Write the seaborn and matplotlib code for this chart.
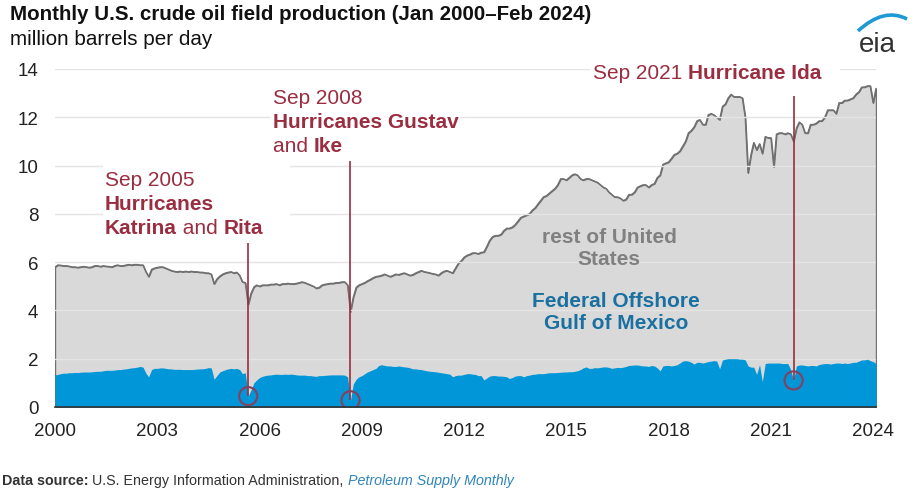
import numpy as np
import pandas as pd
import seaborn as sns
import matplotlib.pyplot as plt
from matplotlib.path import Path
from matplotlib.patches import PathPatch, Rectangle

# ---- data (million barrels per day), monthly Jan 2000 - Feb 2024 ----
start_month = "2000-01"

total_mbd = [
    5.80, 5.88, 5.87, 5.85, 5.85, 5.83, 5.80, 5.80, 5.78, 5.80, 5.82, 5.80,  # 2000
    5.78, 5.80, 5.85, 5.85, 5.82, 5.85, 5.83, 5.82, 5.80, 5.85, 5.88, 5.85,  # 2001
    5.85, 5.88, 5.90, 5.88, 5.90, 5.90, 5.88, 5.88, 5.60, 5.40, 5.70, 5.75,  # 2002
    5.78, 5.80, 5.80, 5.75, 5.70, 5.65, 5.62, 5.60, 5.62, 5.60, 5.62, 5.60,  # 2003
    5.62, 5.60, 5.60, 5.58, 5.58, 5.55, 5.55, 5.50, 5.10, 5.30, 5.42, 5.50,  # 2004
    5.55, 5.58, 5.60, 5.55, 5.58, 5.45, 5.18, 5.15, 4.25, 4.70, 4.97, 5.05,  # 2005
    5.00, 5.05, 5.05, 5.05, 5.08, 5.08, 5.10, 5.05, 5.10, 5.10, 5.12, 5.10,  # 2006
    5.10, 5.12, 5.15, 5.18, 5.15, 5.10, 5.05, 5.00, 4.92, 4.95, 5.05, 5.08,  # 2007
    5.10, 5.12, 5.12, 5.15, 5.15, 5.18, 5.18, 5.05, 3.95, 4.55, 4.95, 5.05,  # 2008
    5.10, 5.15, 5.22, 5.28, 5.35, 5.40, 5.42, 5.45, 5.50, 5.45, 5.40, 5.45,  # 2009
    5.50, 5.48, 5.52, 5.55, 5.50, 5.45, 5.48, 5.55, 5.60, 5.65, 5.60, 5.58,  # 2010
    5.55, 5.52, 5.50, 5.45, 5.55, 5.62, 5.65, 5.60, 5.55, 5.75, 5.95, 6.05,  # 2011
    6.20, 6.28, 6.32, 6.38, 6.38, 6.35, 6.40, 6.42, 6.65, 6.90, 7.05, 7.10,  # 2012
    7.10, 7.15, 7.30, 7.40, 7.40, 7.45, 7.55, 7.70, 7.85, 7.90, 7.95, 8.00,  # 2013
    8.15, 8.25, 8.40, 8.55, 8.70, 8.75, 8.85, 8.95, 9.05, 9.20, 9.45, 9.45,  # 2014
    9.40, 9.50, 9.60, 9.65, 9.60, 9.45, 9.40, 9.45, 9.45, 9.40, 9.35, 9.30,  # 2015
    9.20, 9.10, 9.05, 8.90, 8.80, 8.70, 8.70, 8.65, 8.55, 8.60, 8.80, 8.80,  # 2016
    8.90, 9.10, 9.15, 9.20, 9.20, 9.10, 9.20, 9.25, 9.50, 9.60, 10.05, 10.10,  # 2017
    10.15, 10.30, 10.45, 10.50, 10.60, 10.80, 11.00, 11.35, 11.45, 11.60, 11.85, 11.90,  # 2018
    11.70, 11.70, 12.10, 12.15, 12.10, 12.00, 11.90, 12.45, 12.55, 12.80, 12.95, 12.85,  # 2019
    12.85, 12.85, 12.80, 12.00, 9.70, 10.45, 10.95, 10.65, 10.90, 10.50, 11.20, 11.15,  # 2020
    11.15, 9.95, 11.30, 11.35, 11.35, 11.30, 11.35, 11.30, 11.00, 11.55, 11.80, 11.70,  # 2021
    11.35, 11.35, 11.70, 11.70, 11.75, 11.85, 11.85, 12.00, 12.30, 12.30, 12.30, 12.15,  # 2022
    12.60, 12.60, 12.70, 12.70, 12.75, 12.80, 12.95, 13.05, 13.25, 13.25, 13.30, 13.30,  # 2023
    12.60, 13.20,  # 2024
]

gulf_mbd = [
    1.33, 1.35, 1.38, 1.40, 1.40, 1.42, 1.42, 1.43, 1.43, 1.44, 1.45, 1.45,  # 2000
    1.45, 1.46, 1.47, 1.48, 1.48, 1.50, 1.52, 1.52, 1.52, 1.53, 1.55, 1.55,  # 2001
    1.57, 1.58, 1.60, 1.62, 1.63, 1.65, 1.68, 1.65, 1.40, 1.25, 1.55, 1.60,  # 2002
    1.60, 1.62, 1.62, 1.60, 1.58, 1.58, 1.56, 1.56, 1.56, 1.55, 1.55, 1.55,  # 2003
    1.55, 1.56, 1.57, 1.58, 1.58, 1.60, 1.63, 1.62, 1.15, 1.30, 1.45, 1.50,  # 2004
    1.55, 1.58, 1.60, 1.58, 1.60, 1.55, 1.38, 1.42, 0.45, 0.70, 1.00, 1.12,  # 2005
    1.22, 1.27, 1.30, 1.32, 1.33, 1.35, 1.36, 1.35, 1.35, 1.36, 1.35, 1.36,  # 2006
    1.35, 1.33, 1.32, 1.32, 1.32, 1.30, 1.30, 1.28, 1.27, 1.30, 1.30, 1.31,  # 2007
    1.32, 1.33, 1.33, 1.33, 1.33, 1.33, 1.32, 1.25, 0.28, 0.95, 1.15, 1.25,  # 2008
    1.30, 1.38, 1.45, 1.50, 1.55, 1.60, 1.72, 1.75, 1.72, 1.70, 1.70, 1.68,  # 2009
    1.68, 1.70, 1.68, 1.66, 1.65, 1.62, 1.58, 1.58, 1.56, 1.55, 1.52, 1.50,  # 2010
    1.48, 1.47, 1.46, 1.44, 1.42, 1.40, 1.38, 1.36, 1.25, 1.30, 1.32, 1.32,  # 2011
    1.35, 1.38, 1.38, 1.36, 1.35, 1.30, 1.30, 1.12, 1.20, 1.28, 1.30, 1.30,  # 2012
    1.28, 1.28, 1.27, 1.25, 1.18, 1.22, 1.28, 1.30, 1.30, 1.25, 1.30, 1.32,  # 2013
    1.35, 1.36, 1.38, 1.38, 1.38, 1.40, 1.42, 1.42, 1.42, 1.43, 1.44, 1.45,  # 2014
    1.45, 1.46, 1.46, 1.48, 1.50, 1.55, 1.62, 1.66, 1.60, 1.60, 1.63, 1.62,  # 2015
    1.64, 1.66, 1.66, 1.64, 1.60, 1.62, 1.64, 1.63, 1.65, 1.68, 1.72, 1.73,  # 2016
    1.74, 1.74, 1.72, 1.70, 1.70, 1.68, 1.72, 1.70, 1.62, 1.50, 1.70, 1.72,  # 2017
    1.72, 1.70, 1.72, 1.75, 1.82, 1.90, 1.92, 1.90, 1.85, 1.78, 1.85, 1.85,  # 2018
    1.82, 1.85, 1.88, 1.90, 1.92, 1.90, 1.58, 1.95, 1.98, 2.00, 2.00, 2.00,  # 2019
    2.00, 1.98, 1.98, 1.95, 1.70, 1.65, 1.65, 1.35, 1.75, 1.05, 1.80, 1.82,  # 2020
    1.82, 1.82, 1.82, 1.82, 1.80, 1.80, 1.80, 1.55, 1.10, 1.70, 1.74, 1.74,  # 2021
    1.72, 1.70, 1.72, 1.72, 1.70, 1.76, 1.78, 1.80, 1.80, 1.78, 1.80, 1.82,  # 2022
    1.82, 1.80, 1.82, 1.80, 1.82, 1.85, 1.85, 1.90, 1.95, 1.95, 1.98, 1.92,  # 2023
    1.88, 1.80,  # 2024
]

tick_years = [2000, 2003, 2006, 2009, 2012, 2015, 2018, 2021, 2024]
y_ticks = [0, 2, 4, 6, 8, 10, 12, 14]

# hurricane events: month, top of the pointer line (value units)
event_months = ["2005-09", "2008-09", "2021-09"]
event_line_tops = [6.8, 10.2, 12.9]

# ---- colours ----
GRAY_FILL = "#d9d9d9"
GRAY_LINE = "#707070"
BLUE = "#0096d7"
BLUE_TEXT = "#1a70a0"
RED = "#9b2d40"
TEXT = "#222222"

W, H = 915, 489


def fx(x):
    return x / W


def fy(y):
    return 1 - y / H


df = pd.DataFrame({
    "date": pd.date_range(start_month, periods=len(total_mbd), freq="MS"),
    "total": total_mbd,
    "gulf": gulf_mbd,
})

sns.set_theme(style="white")
plt.rcParams["font.family"] = ["Liberation Sans", "DejaVu Sans"]

fig = plt.figure(figsize=(W / 100, H / 100), dpi=100)
ax = fig.add_axes([fx(55), fy(408), fx(876) - fx(55), fy(70) - fy(408)])

# areas
ax.fill_between(df["date"], 0, df["total"], facecolor=GRAY_FILL,
                edgecolor=GRAY_LINE, linewidth=1.0, zorder=1)
sns.lineplot(data=df, x="date", y="total", color=GRAY_LINE, linewidth=1.0,
             ax=ax, zorder=1.2)
for yv in y_ticks[1:]:
    ax.axhline(yv, color="#e4e4e4", linewidth=1, zorder=1.5)
ax.fill_between(df["date"], 0, df["gulf"], facecolor=BLUE, linewidth=0,
                zorder=2)

# white masks behind the annotation blocks (they break the gridlines)
for x0, y0, x1, y1 in [(103, 164, 290, 240), (270, 84, 460, 158),
                       (590, 60, 840, 86)]:
    ax.add_patch(Rectangle((fx(x0), fy(y1)), fx(x1) - fx(x0), fy(y0) - fy(y1),
                           transform=fig.transFigure, facecolor="white",
                           edgecolor="none", zorder=3, clip_on=False))

# hurricane pointers
for m, top in zip(event_months, event_line_tops):
    row = df[df["date"] == pd.Timestamp(m)].iloc[0]
    ax.vlines(row["date"], row["gulf"], top, color=RED, linewidth=1.2,
              zorder=4)
    ax.scatter([row["date"]], [row["gulf"]], s=170, facecolors="none",
               edgecolors="#86405e", linewidths=1.5, zorder=5)

# axes styling
ax.set_xlim(df["date"].iloc[0], df["date"].iloc[-1])
ax.set_ylim(0, 14)
ax.set_yticks(y_ticks)
ax.set_xticks([pd.Timestamp(f"{y}-01-01") for y in tick_years])
ax.set_xticklabels([str(y) for y in tick_years])
ax.set_xlabel("")
ax.set_ylabel("")
for s in ["top", "right", "left"]:
    ax.spines[s].set_visible(False)
ax.spines["bottom"].set_color("#333333")
ax.spines["bottom"].set_linewidth(1.2)
ax.spines["bottom"].set_zorder(6)
ax.tick_params(axis="y", length=0, pad=12, labelsize=13.5, labelcolor=TEXT)
ax.tick_params(axis="x", direction="out", length=6, width=1, color="#333333",
               pad=5, labelsize=13.5, labelcolor=TEXT)
ax.grid(False)


def rich_line(x, y, parts, size=15, color=RED):
    """Draw one line made of (text, weight) parts, left aligned at pixel x/y."""
    prev = None
    for s, w in parts:
        if prev is None:
            xy, coords = (fx(x), fy(y)), "figure fraction"
            va = "baseline"
        else:
            xy, coords = (1, 0), prev
            va = "bottom"
        prev = ax.annotate(s, xy=xy, xycoords=coords, ha="left", va=va,
                           fontsize=size, color=color, weight=w,
                           annotation_clip=False, zorder=10)


rich_line(105, 186, [("Sep 2005", "normal")])
rich_line(105, 210, [("Hurricanes", "bold")])
rich_line(105, 234, [("Katrina", "bold"), (" and ", "normal"), ("Rita", "bold")])

rich_line(273, 104, [("Sep 2008", "normal")])
rich_line(273, 128, [("Hurricanes Gustav", "bold")])
rich_line(273, 152, [("and ", "normal"), ("Ike", "bold")])

rich_line(593, 79, [("Sep 2021 ", "normal"), ("Hurricane Ida", "bold")])

# series labels
fig.text(fx(609), fy(243), "rest of United", ha="center", va="baseline",
         fontsize=15, weight="bold", color="#808080")
fig.text(fx(609), fy(265), "States", ha="center", va="baseline",
         fontsize=15, weight="bold", color="#808080")
fig.text(fx(616), fy(307), "Federal Offshore", ha="center", va="baseline",
         fontsize=15, weight="bold", color=BLUE_TEXT)
fig.text(fx(616), fy(329), "Gulf of Mexico", ha="center", va="baseline",
         fontsize=15, weight="bold", color=BLUE_TEXT)

# title block
fig.text(fx(10), fy(20), "Monthly U.S. crude oil field production (Jan 2000\u2013Feb 2024)",
         ha="left", va="baseline", fontsize=14.8, weight="bold", color="#111111")
fig.text(fx(10), fy(45), "million barrels per day", ha="left", va="baseline",
         fontsize=14.9, color="#111111")

# eia logo
fig.text(fx(877), fy(52), "eia", ha="center", va="baseline", fontsize=20,
         color="#333333")
swoosh = Path([(fx(858), fy(32)), (fx(884), fy(8)), (fx(907), fy(20))],
              [Path.MOVETO, Path.CURVE3, Path.CURVE3])
fig.add_artist(PathPatch(swoosh, transform=fig.transFigure, facecolor="none",
                         edgecolor="#1d9ad6", linewidth=2.6))

# footer
src = fig.text(fx(2), fy(485), "Data source:", ha="left", va="baseline",
               fontsize=10.3, weight="bold", color="#333333")
a1 = ax.annotate(" U.S. Energy Information Administration, ", xy=(1, 0),
                 xycoords=src, ha="left", va="bottom", fontsize=10.3,
                 color="#333333", annotation_clip=False)
ax.annotate("Petroleum Supply Monthly", xy=(1, 0), xycoords=a1, ha="left",
            va="bottom", fontsize=10.3, style="italic", color="#2f86b8",
            annotation_clip=False)

fig.savefig("out.png", dpi=100, facecolor="white")
